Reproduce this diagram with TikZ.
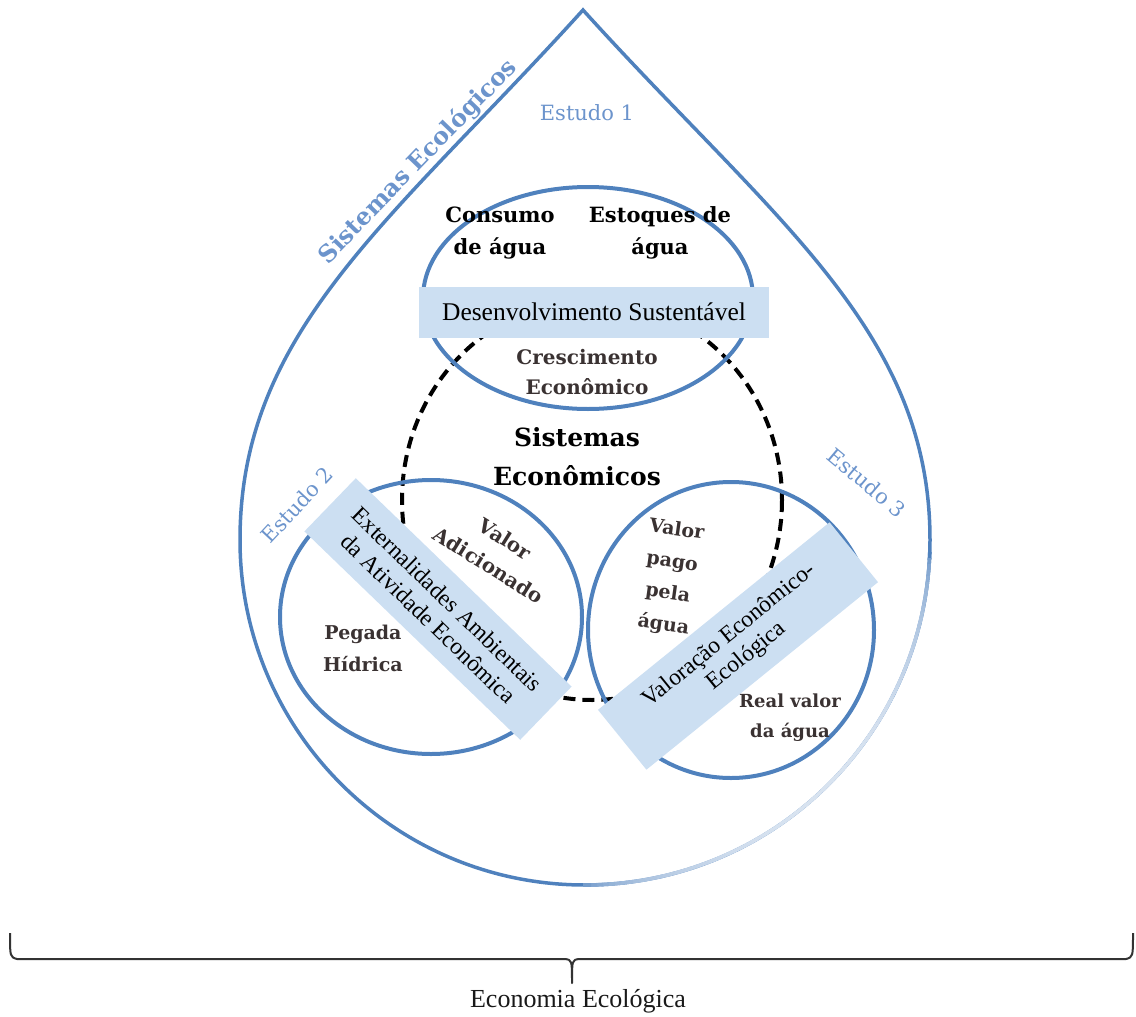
\documentclass[tikz,border=0pt]{standalone}
\usepackage{fontspec}
\setmainfont{Liberation Serif}
\newfontfamily\labelfont{DejaVu Serif}
\usetikzlibrary{calc}

\definecolor{dropblue}{RGB}{79,129,189}
\definecolor{studyblue}{RGB}{108,148,204}
\definecolor{bandfill}{RGB}{204,223,242}
\definecolor{ink}{RGB}{58,50,50}

\begin{document}
\begin{tikzpicture}[x=1pt,y=-1pt]

\tikzset{circ/.style = {draw=dropblue, line width=4pt}}
\tikzset{band/.style = {fill=bandfill, inner sep=0pt, align=center, font=\fontsize{23.5}{27}\selectfont}}
\tikzset{lbl/.style 2 args = {align=center, text=ink, font=\labelfont\bfseries\fontsize{#1}{#2}\selectfont}}
\tikzset{study/.style = {text=studyblue, font=\labelfont\fontsize{21}{25}\selectfont}}
\useasboundingbox (0,0) rectangle (1136,1017);

% the drop, with its faded lower right rim
\draw[dropblue, line width=3.5pt] (583,10) .. controls (393,220) and (240,330) .. (240,540)
  arc [start angle=180, end angle=0, radius=345]
  .. controls (930,330) and (773,220) .. (583,10) -- cycle;
\foreach \a in {2,3,...,89}{
\pgfmathtruncatemacro\p{100-78*(sin(180*(\a-2)/88))^0.4}
\draw[dropblue!\p!white, line width=3.6pt] ($(585,540)+(\a:345)$) arc [start angle=\a, end angle=\a+1.3, radius=345];
}

\foreach \pos/\name in {{(588,298)/e1}, {(431,617)/e2}, {(731,630)/e3}, {(592,500)/eco}}
\path \pos coordinate (\name);

\draw[black, line width=4pt, dash pattern=on 12pt off 7pt] (eco) ellipse [x radius=190, y radius=200];
\draw[circ] (e1) ellipse [x radius=165, y radius=111];
\draw[circ] (e2) ellipse [x radius=151, y radius=137];
\draw[circ] (e3) ellipse [x radius=143, y radius=148];

\node[band, minimum width=350pt, minimum height=51pt, font=\fontsize{25.5}{29}\selectfont] (ds) at (594,312) {Desenvolvimento Sustentável};
\node[band, rotate=-44, minimum width=300pt, minimum height=74pt] (ea) at (438,609) {Externalidades Ambientais\\da Atividade Econômica};
\node[band, rotate=39, minimum width=298pt, minimum height=77pt] (ve) at (738,646) {Valoração Econômico-\\Ecológica};

\node[rotate=46, text=studyblue, font=\labelfont\bfseries\fontsize{24}{28}\selectfont] (se) at (418,162) {Sistemas Ecológicos};
\node[study] (s1) at (587,113) {Estudo 1};
\node[study, rotate=47] (s2) at (297,505) {Estudo 2};
\node[study, rotate=-40] (s3) at (867,483) {Estudo 3};

\node[lbl={21}{32}, text=black] (ca) at (500,233) {Consumo\\de água};
\node[lbl={21}{32}, text=black] (eq) at (660,233) {Estoques de\\água};
\node[lbl={20}{30}] (ce) at (587,372) {Crescimento\\Econômico};
\node[lbl={25}{39}, text=black] (sy) at (577,457) {Sistemas\\Econômicos};
\node[lbl={20}{31}, rotate=-32] (va) at (497,552) {Valor\\Adicionado};
\node[lbl={19}{32}] (ph) at (363,648) {Pegada\\Hídrica};
\node[lbl={19}{32}, rotate=-8] (vp) at (670,578) {Valor\\pago\\pela\\água};
\node[lbl={18}{30}] (rv) at (790,718) {Real valor\\da água};

% brace under the drop
\coordinate (bl) at (10,933);
\coordinate (br) at (1133,933);
\coordinate (tip) at (572,983);
\draw[black!80, line width=2pt, line join=round] (bl) .. controls (10,957) .. (17,959) -- (565,959)
  .. controls (572,960) .. (tip) .. controls (572,960) .. (579,959) -- (1126,959)
  .. controls (1133,957) .. (br);
\node[font=\fontsize{26}{30}\selectfont, text=black!90] (ee) at (578,1001) {Economia Ecológica};

\end{tikzpicture}
\end{document}
